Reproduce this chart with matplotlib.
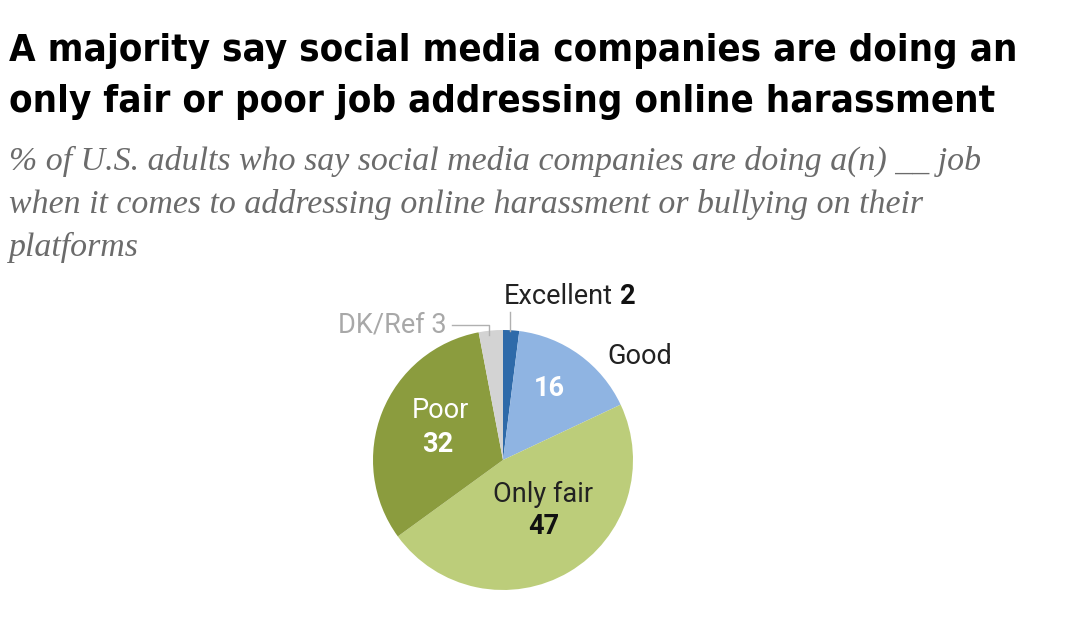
import matplotlib
matplotlib.use('Agg')
import matplotlib.pyplot as plt

# survey shares (%), clockwise from top
categories = ['Excellent', 'Good', 'Only fair', 'Poor', 'DK/Ref']
values = [2, 16, 47, 32, 3]
colors = ['#2e6aa9', '#8fb4e2', '#bccd7a', '#8b9c3e', '#d3d3d3']

title = ('A majority say social media companies are doing an\n'
         'only fair or poor job addressing online harassment')
subtitle = ('% of U.S. adults who say social media companies are doing a(n) __ job\n'
            'when it comes to addressing online harassment or bullying on their\n'
            'platforms')

W, H = 1080, 621
fig = plt.figure(figsize=(W / 100, H / 100), dpi=100)
fig.patch.set_facecolor('white')

fig.text(9 / W, 1 - 33 / H, title, ha='left', va='top',
         family='DejaVu Sans', stretch='condensed', weight='bold',
         fontsize=27.5, color='black', linespacing=1.55)
fig.text(9 / W, 1 - 146 / H, subtitle, ha='left', va='top',
         family=['Liberation Serif', 'DejaVu Serif'], style='italic',
         fontsize=24.4, color='#6b6b6b', linespacing=1.5)

# pie axes: centre (503, 460), radius 130 px
cx, cy, r = 503, 460, 130
ax = fig.add_axes([(cx - r) / W, 1 - (cy + r) / H, 2 * r / W, 2 * r / H])
wedges, _ = ax.pie(values, colors=colors, startangle=90, counterclock=False,
                   radius=1, wedgeprops=dict(linewidth=0))
ax.set_xlim(-1, 1)
ax.set_ylim(-1, 1)
ax.set_aspect('equal')
ax.axis('off')

lab = dict(family=['Roboto', 'DejaVu Sans'], fontsize=19.5)


def px(x, y):
    return (x - cx) / r, (cy - y) / r


# Excellent
t = ax.text(*px(504, 296), categories[0], ha='left', va='center', color='#222222',
            clip_on=False, **lab)
ax.annotate(str(values[0]), xy=(1, 0), xycoords=t, xytext=(5, 0),
            textcoords='offset points', ha='left', va='bottom', color='#111111',
            weight='bold', **lab)
ax.plot(*zip(px(510, 312), px(510, 331)), color='#b0b0b0', lw=1, clip_on=False)

# DK/Ref
ax.text(*px(447, 325), f'{categories[4]} {values[4]}', ha='right', va='center',
        color='#a8a8a8', clip_on=False, **lab)
ax.plot(*zip(px(452, 325), px(489, 325), px(489, 335)), color='#b0b0b0', lw=1,
        clip_on=False)

# Good
ax.text(*px(607, 356), categories[1], ha='left', va='center', color='#222222',
        clip_on=False, **lab)
ax.text(*px(549, 389), str(values[1]), ha='center', va='center', color='white',
        weight='bold', **lab)

# Poor
ax.text(*px(440, 410), categories[3], ha='center', va='center', color='white', **lab)
ax.text(*px(438, 444), str(values[3]), ha='center', va='center', color='white',
        weight='bold', **lab)

# Only fair
ax.text(*px(543, 494), categories[2], ha='center', va='center', color='#222222', **lab)
ax.text(*px(544, 527), str(values[2]), ha='center', va='center', color='#111111',
        weight='bold', **lab)

fig.savefig('out.png', dpi=100, facecolor='white')
